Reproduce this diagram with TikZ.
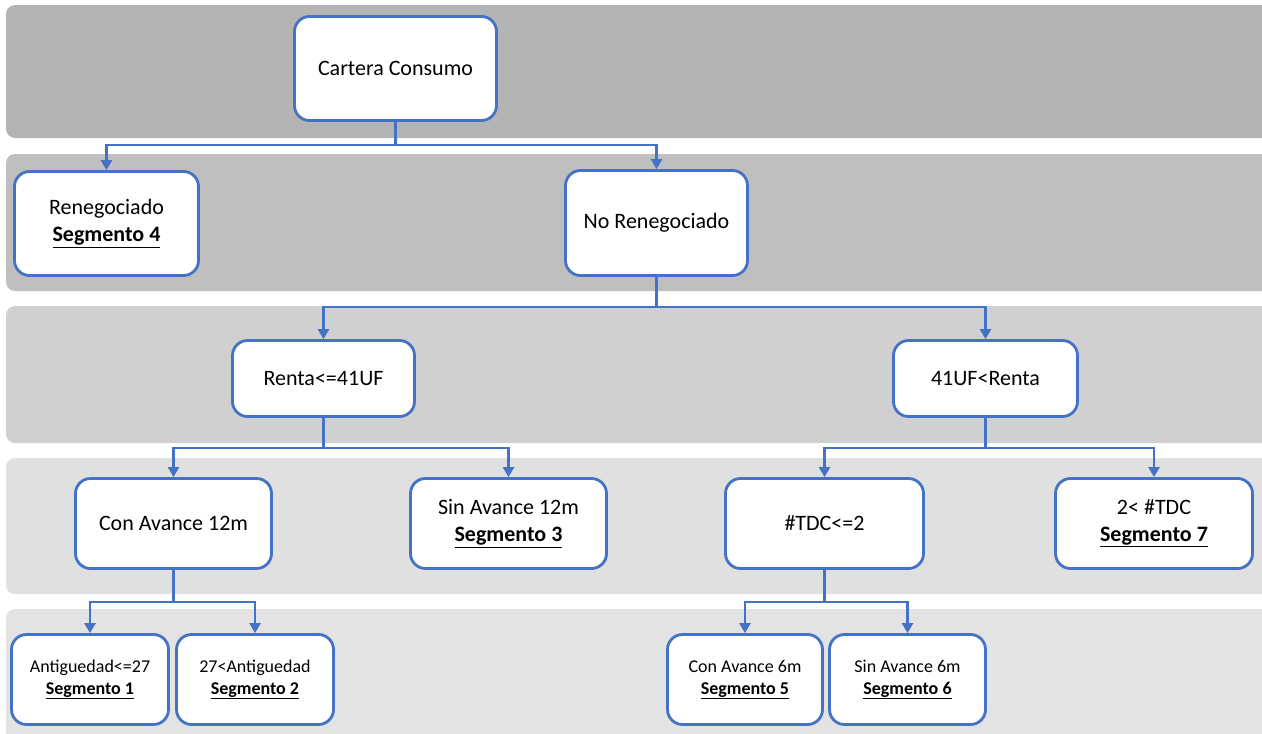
\documentclass[tikz,border=0pt]{standalone}
\usepackage{fontspec}
\setmainfont{Carlito}
\usetikzlibrary{arrows.meta}

\definecolor{edge}{HTML}{4472C4}
\definecolor{bandA}{RGB}{180,180,180}
\definecolor{bandB}{RGB}{191,191,191}
\definecolor{bandC}{RGB}{208,208,208}
\definecolor{bandD}{RGB}{224,224,224}
\definecolor{bandE}{RGB}{227,227,227}

\begin{document}
\begin{tikzpicture}[x=1pt,y=-1pt,
  box/.style={draw=edge,line width=2.8pt,fill=white,rounded corners=15pt,
    align=center,inner sep=0pt,font=\fontsize{22}{27}\selectfont},
  leaf/.style={box,font=\fontsize{18}{22}\selectfont},
  wire/.style={draw=edge,line width=2.8pt},
  link/.style={wire,-{Triangle[width=11pt,length=10pt]}},
  band/.style={rounded corners=9pt}]
\useasboundingbox (0,0) rectangle (1262,734);
\clip (0,0) rectangle (1262,734);

% level bands
\fill[band,bandA] (6,5) rectangle (1290,138);
\fill[band,bandB] (6,154) rectangle (1290,291);
\fill[band,bandC] (6,306) rectangle (1290,443);
\fill[band,bandD] (6,458) rectangle (1290,594);
\fill[band,bandE] (6,609) rectangle (1290,760);

\node[box,minimum width=202pt,minimum height=104pt] (cc) at (395.5,68.5) {Cartera Consumo};

\node[box,minimum width=184pt,minimum height=104pt] (ren) at (106.5,223.5)
  {Renegociado\\\underline{\textbf{Segmento 4}}};
\node[box,minimum width=182pt,minimum height=105pt] (noren) at (656.5,223) {No Renegociado};

\node[box,minimum width=182pt,minimum height=76pt] (rlow) at (323.5,378.5) {Renta<=41UF};
\node[box,minimum width=184pt,minimum height=76pt] (rhigh) at (985.5,378.5) {41UF<Renta};

\node[box,minimum width=196pt,minimum height=90pt] (con12) at (173.5,523.5) {Con Avance 12m};
\node[box,minimum width=196pt,minimum height=90pt] (sin12) at (508.5,523.5)
  {Sin Avance 12m\\\underline{\textbf{Segmento 3}}};
\node[box,minimum width=198pt,minimum height=90pt] (tdclow) at (824.5,523.5) {\#TDC<=2};
\node[box,minimum width=197pt,minimum height=90pt] (tdchigh) at (1154,523.5)
  {2< \#TDC\\\underline{\textbf{Segmento 7}}};

\node[leaf,minimum width=157pt,minimum height=90pt] (antlow) at (90,679.5)
  {Antiguedad<=27\\\underline{\textbf{Segmento 1}}};
\node[leaf,minimum width=157pt,minimum height=90pt] (anthigh) at (255,679.5)
  {27<Antiguedad\\\underline{\textbf{Segmento 2}}};
\node[leaf,minimum width=155pt,minimum height=90pt] (con6) at (745,679.5)
  {Con Avance 6m\\\underline{\textbf{Segmento 5}}};
\node[leaf,minimum width=156pt,minimum height=90pt] (sin6) at (907.5,679.5)
  {Sin Avance 6m\\\underline{\textbf{Segmento 6}}};

% split points under each parent
\coordinate (s0) at (395.5,145);
\coordinate (s1) at (656.5,307);
\coordinate (s2) at (323.5,448);
\coordinate (s3) at (985.5,448);
\coordinate (s4) at (173.5,602);
\coordinate (s5) at (824.5,602);

\draw[wire] (cc) -- (s0);
\draw[link] (s0) -| (ren);
\draw[link] (s0) -| (noren);

\draw[wire] (noren) -- (s1);
\draw[link] (s1) -| (rlow);
\draw[link] (s1) -| (rhigh);

\draw[wire] (rlow) -- (s2);
\draw[link] (s2) -| (con12);
\draw[link] (s2) -| (sin12);

\draw[wire] (rhigh) -- (s3);
\draw[link] (s3) -| (tdclow);
\draw[link] (s3) -| (tdchigh);

\draw[wire] (con12) -- (s4);
\draw[link] (s4) -| (antlow);
\draw[link] (s4) -| (anthigh);

\draw[wire] (tdclow) -- (s5);
\draw[link] (s5) -| (con6);
\draw[link] (s5) -| (sin6);
\end{tikzpicture}
\end{document}
